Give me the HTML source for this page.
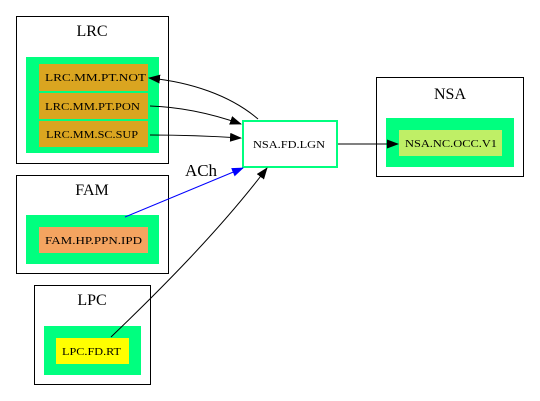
<!DOCTYPE html>
<html><head><style>html,body{margin:0;padding:0;background:#fff}svg{display:block}</style></head><body>
<svg width="540" height="401" xmlns="http://www.w3.org/2000/svg" font-family="'Liberation Serif',serif">
<defs>
<marker id="ak" markerWidth="12" markerHeight="9" refX="11" refY="4.5" orient="auto" markerUnits="userSpaceOnUse"><path d="M0,0L12,4.5L0,9Z" fill="#000"/></marker>
<marker id="ab" markerWidth="12" markerHeight="9" refX="11" refY="4.5" orient="auto" markerUnits="userSpaceOnUse"><path d="M0,0L12,4.5L0,9Z" fill="#00f"/></marker>
</defs>
<g fill="none" stroke="#000" stroke-width="1">
<rect x="16.5" y="16.5" width="152" height="147"/>
<rect x="16.5" y="175.5" width="152" height="98"/>
<rect x="34.5" y="285.5" width="116" height="99"/>
<rect x="376.5" y="77.5" width="147" height="99"/>
</g>
<g font-size="16" text-anchor="middle">
<text x="92" y="36">LRC</text>
<text x="92" y="195">FAM</text>
<text x="92" y="305">LPC</text>
<text x="450" y="99">NSA</text>
<text x="201" y="176" font-size="17">ACh</text>
</g>
<g fill="#00ff7f">
<rect x="26" y="57" width="133" height="96"/>
<rect x="26" y="215" width="133" height="49"/>
<rect x="44" y="326" width="97" height="49"/>
<rect x="386" y="118" width="128" height="49"/>
</g>
<g fill="#daa520">
<rect x="39" y="64" width="109" height="27"/>
<rect x="39" y="93" width="109" height="26"/>
<rect x="39" y="121" width="109" height="26"/>
</g>
<rect x="39" y="227" width="109" height="26" fill="#f4a460"/>
<rect x="56" y="338" width="73" height="26" fill="#ffff00"/>
<rect x="399" y="130" width="103" height="26" fill="#bfef66"/>
<rect x="243" y="121" width="94" height="46" fill="#fff" stroke="#00ff7f" stroke-width="2"/>
<g font-size="11">
<text x="45" y="81" textLength="101" lengthAdjust="spacingAndGlyphs">LRC.MM.PT.NOT</text>
<text x="45" y="110" textLength="95" lengthAdjust="spacingAndGlyphs">LRC.MM.PT.PON</text>
<text x="46" y="138" textLength="92" lengthAdjust="spacingAndGlyphs">LRC.MM.SC.SUP</text>
<text x="45" y="244" textLength="97" lengthAdjust="spacingAndGlyphs">FAM.HP.PPN.IPD</text>
<text x="62" y="355" textLength="59" lengthAdjust="spacingAndGlyphs">LPC.FD.RT</text>
<text x="253" y="148" textLength="72" lengthAdjust="spacingAndGlyphs">NSA.FD.LGN</text>
<text x="405" y="147" textLength="92" lengthAdjust="spacingAndGlyphs">NSA.NC.OCC.V1</text>
</g>
<g fill="none" stroke="#000" stroke-width="1">
<path d="M258,119 C230,95 190,82 149,78" marker-end="url(#ak)"/>
<path d="M150,106 C180,107 210,113 241,124" marker-end="url(#ak)"/>
<path d="M150,135 C180,135 210,136 241,138" marker-end="url(#ak)"/>
<path d="M111,337 C160,290 220,230 267,168" marker-end="url(#ak)"/>
<path d="M338,144 L398,144" marker-end="url(#ak)"/>
<path d="M125,217 L243,168" stroke="#00f" marker-end="url(#ab)"/>
</g>
</svg>
</body></html>
